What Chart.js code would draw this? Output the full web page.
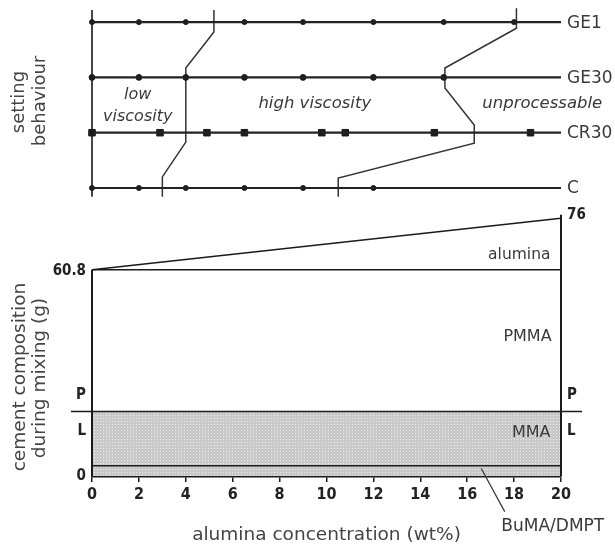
<!DOCTYPE html>
<html>
<head>
<meta charset="utf-8">
<script src="https://cdn.jsdelivr.net/npm/chart.js@4.4.1/dist/chart.umd.min.js"></script>
<style>
  html, body { margin: 0; padding: 0; background: #fff; }
  #wrap { width: 615px; height: 546px; }
</style>
</head>
<body>
<div id="wrap"><canvas id="chart" width="615" height="546"></canvas></div>
<script>
// --- top panel: setting behaviour, one row per cement (y = row index) ---
const rowNames = ['C', 'CR30', 'GE30', 'GE1'];
const ge1Alumina = [0, 2, 4, 6.5, 9, 12, 15, 18];
const ge30Alumina = [0, 2, 4, 6.5, 9, 12, 15];
const cr30Alumina = [0, 2.9, 4.9, 6.5, 9.8, 10.8, 14.6, 18.7];
const cAlumina = [0, 2, 4, 6.5, 9, 12];

// boundary low / high viscosity
const lowHighX = [5.2, 5.2, 4.0, 4.0, 3.0, 3.0];
const lowHighY = [3.22, 2.82, 2.17, 0.83, 0.2, -0.16];
// boundary high viscosity / unprocessable
const highUnprocX = [18.1, 18.1, 15.05, 15.05, 16.3, 16.3, 10.5, 10.5];
const highUnprocY = [3.25, 2.89, 2.17, 1.81, 1.14, 0.81, 0.18, -0.16];

// --- bottom panel: cement composition during mixing (g) ---
const aluminaRange = [0, 20];
const totalMass = [60.8, 76];   // powder + alumina
const powderMass = 60.8;        // PMMA + liquid
const liquidMass = 19;          // P / L boundary
const bumaMass = 3;             // BuMA/DMPT part of the liquid
const leaderX = [16.6, 17.6];   // BuMA/DMPT pointer
const leaderY = [2.2, -10.5];

const xTicks = [0, 2, 4, 6, 8, 10, 12, 14, 16, 18, 20];

const pts = (xs, ys) => xs.map((x, i) => ({x: x, y: Array.isArray(ys) ? ys[i] : ys}));

const INK = '#1a1a1a';
const TXT = '#3a3a3a';
const SANS = '"DejaVu Sans", sans-serif';
const NARROW = '"Liberation Sans Narrow", "DejaVu Sans Condensed", sans-serif';

// dotted grey fill for the liquid part
function makePattern() {
    const c = document.createElement('canvas');
    c.width = 3; c.height = 3;
    const g = c.getContext('2d');
    g.fillStyle = '#c9c9c9';
    g.fillRect(0, 0, 3, 3);
    g.fillStyle = '#ebebeb';
    g.fillRect(1, 1, 1, 1);
    return g.createPattern(c, 'repeat');
}

function line(data, axis, width, color) {
    return {
        data: data, yAxisID: axis, showLine: true, pointRadius: 0,
        borderColor: color || INK, borderWidth: width, fill: false, clip: false
    };
}

function markers(xs, row, style, radius) {
    return {
        data: pts(xs, row), yAxisID: 'yTop', showLine: false,
        pointStyle: style, pointRadius: radius, pointBackgroundColor: INK,
        pointBorderColor: INK, pointBorderWidth: 1, clip: false
    };
}

const rowData = [cAlumina, cr30Alumina, ge30Alumina, ge1Alumina];
const markerSize = [2.5, 4.6, 2.9, 2.5];
const datasets = [];
rowNames.forEach((name, i) => {
    datasets.push(line(pts(aluminaRange, i), 'yTop', 2.2, '#222'));
    datasets.push(markers(rowData[i], i, name === 'CR30' ? 'rect' : 'circle', markerSize[i]));
});
datasets.push(line(pts([0, 0], [3.22, -0.16]), 'yTop', 1.6));
datasets.push(line(pts(lowHighX, lowHighY), 'yTop', 1.5, '#333'));
datasets.push(line(pts(highUnprocX, highUnprocY), 'yTop', 1.5, '#333'));

datasets.push(line(pts(aluminaRange, totalMass), 'y', 1.5));
datasets.push(line(pts(aluminaRange, powderMass), 'y', 1.5));
datasets.push(line(pts([0, 0], [0, powderMass]), 'y', 2));
datasets.push(line(pts([20, 20], [0, totalMass[1] + 1]), 'y', 2));
datasets.push(line(pts([-0.9, 20.9], liquidMass), 'y', 1.5));
datasets.push(line(pts(aluminaRange, bumaMass), 'y', 1.5));
datasets.push(line(pts(leaderX, leaderY), 'y', 1.2, '#333'));
datasets.push({
    data: pts(aluminaRange, liquidMass), yAxisID: 'y', showLine: true, pointRadius: 0,
    borderWidth: 0, borderColor: 'rgba(0,0,0,0)', backgroundColor: makePattern(),
    fill: 'origin', order: 5
});

// text labels placed in data units of the scales
const labels = [
    {t: 'low', x: 1.95, y: 1.68, ax: 'yTop', f: 'italic 16px ' + SANS, a: 'center'},
    {t: 'viscosity', x: 1.95, y: 1.28, ax: 'yTop', f: 'italic 16px ' + SANS, a: 'center'},
    {t: 'high viscosity', x: 9.5, y: 1.52, ax: 'yTop', f: 'italic 16.5px ' + SANS, a: 'center'},
    {t: 'unprocessable', x: 19.2, y: 1.52, ax: 'yTop', f: 'italic 16.5px ' + SANS, a: 'center'},
    {t: 'alumina', x: 19.55, y: 65.2, ax: 'y', f: '15.5px ' + SANS, a: 'right'},
    {t: 'PMMA', x: 19.6, y: 41, ax: 'y', f: '16px ' + SANS, a: 'right'},
    {t: 'MMA', x: 19.55, y: 12.7, ax: 'y', f: '16px ' + SANS, a: 'right'},
    {t: 'BuMA/DMPT', x: 19.65, y: -14.8, ax: 'y', f: '17px ' + SANS, a: 'center'}
];

const textPlugin = {
    id: 'texts',
    afterDraw(chart) {
        const ctx = chart.ctx;
        const xs = chart.scales.x, yt = chart.scales.yTop, yb = chart.scales.y;
        ctx.save();
        ctx.textBaseline = 'middle';
        ctx.fillStyle = TXT;
        labels.forEach(l => {
            ctx.font = l.f;
            ctx.textAlign = l.a;
            ctx.fillText(l.t, xs.getPixelForValue(l.x), chart.scales[l.ax].getPixelForValue(l.y));
        });
        // row names right of the rows
        ctx.font = '17px ' + SANS;
        ctx.textAlign = 'left';
        rowNames.forEach((n, i) => ctx.fillText(n, xs.right + 6, yt.getPixelForValue(i) + 1));

        // composition axis marks
        ctx.font = 'bold 15px ' + NARROW;
        ctx.fillStyle = '#222';
        ctx.textAlign = 'right';
        ctx.fillText('60.8', xs.left - 6, yb.getPixelForValue(powderMass) + 1);
        ctx.fillText('0', xs.left - 6, yb.getPixelForValue(0));
        ctx.fillText('P', xs.left - 6, yb.getPixelForValue(liquidMass) - 16);
        ctx.fillText('L', xs.left - 6, yb.getPixelForValue(liquidMass) + 20);
        ctx.textAlign = 'left';
        ctx.fillText('76', xs.right + 6, yb.getPixelForValue(totalMass[1]) - 3);
        ctx.fillText('P', xs.right + 6, yb.getPixelForValue(liquidMass) - 16);
        ctx.fillText('L', xs.right + 6, yb.getPixelForValue(liquidMass) + 20);

        // rotated axis titles
        ctx.fillStyle = '#444';
        ctx.font = '18px ' + SANS;
        ctx.textAlign = 'center';
        const vtext = (t, x, y) => {
            ctx.save(); ctx.translate(x, y); ctx.rotate(-Math.PI / 2);
            ctx.fillText(t, 0, 0); ctx.restore();
        };
        vtext('setting', 19, 102);
        vtext('behaviour', 40, 101);
        ctx.font = '18.5px ' + SANS;
        vtext('cement composition', 20, 377);
        vtext('during mixing (g)', 40, 378);
        ctx.restore();
    }
};

new Chart(document.getElementById('chart'), {
    type: 'scatter',
    data: {datasets: datasets},
    options: {
        responsive: false,
        animation: false,
        layout: {padding: {left: 92, right: 54, top: 8, bottom: 0}},
        plugins: {legend: {display: false}, tooltip: {enabled: false}},
        scales: {
            x: {
                type: 'linear', position: 'bottom', min: 0, max: 20,
                afterBuildTicks: s => { s.ticks = xTicks.map(v => ({value: v})); },
                afterFit: s => { s.height = 70; },
                ticks: {color: '#222', font: {family: NARROW, size: 16, weight: 'bold'}, padding: 3},
                grid: {drawOnChartArea: false, tickLength: 6, color: INK, lineWidth: 1.5},
                border: {color: INK, width: 2.5},
                title: {display: true, text: 'alumina concentration (wt%)', color: '#444',
                    font: {family: SANS, size: 18.5}, padding: {top: 0, bottom: 0}}
            },
            yTop: {type: 'linear', display: false, min: -5.208, max: 3.255},
            y: {type: 'linear', display: false, min: 0, max: 138}
        }
    },
    plugins: [textPlugin]
});
</script>
</body>
</html>
